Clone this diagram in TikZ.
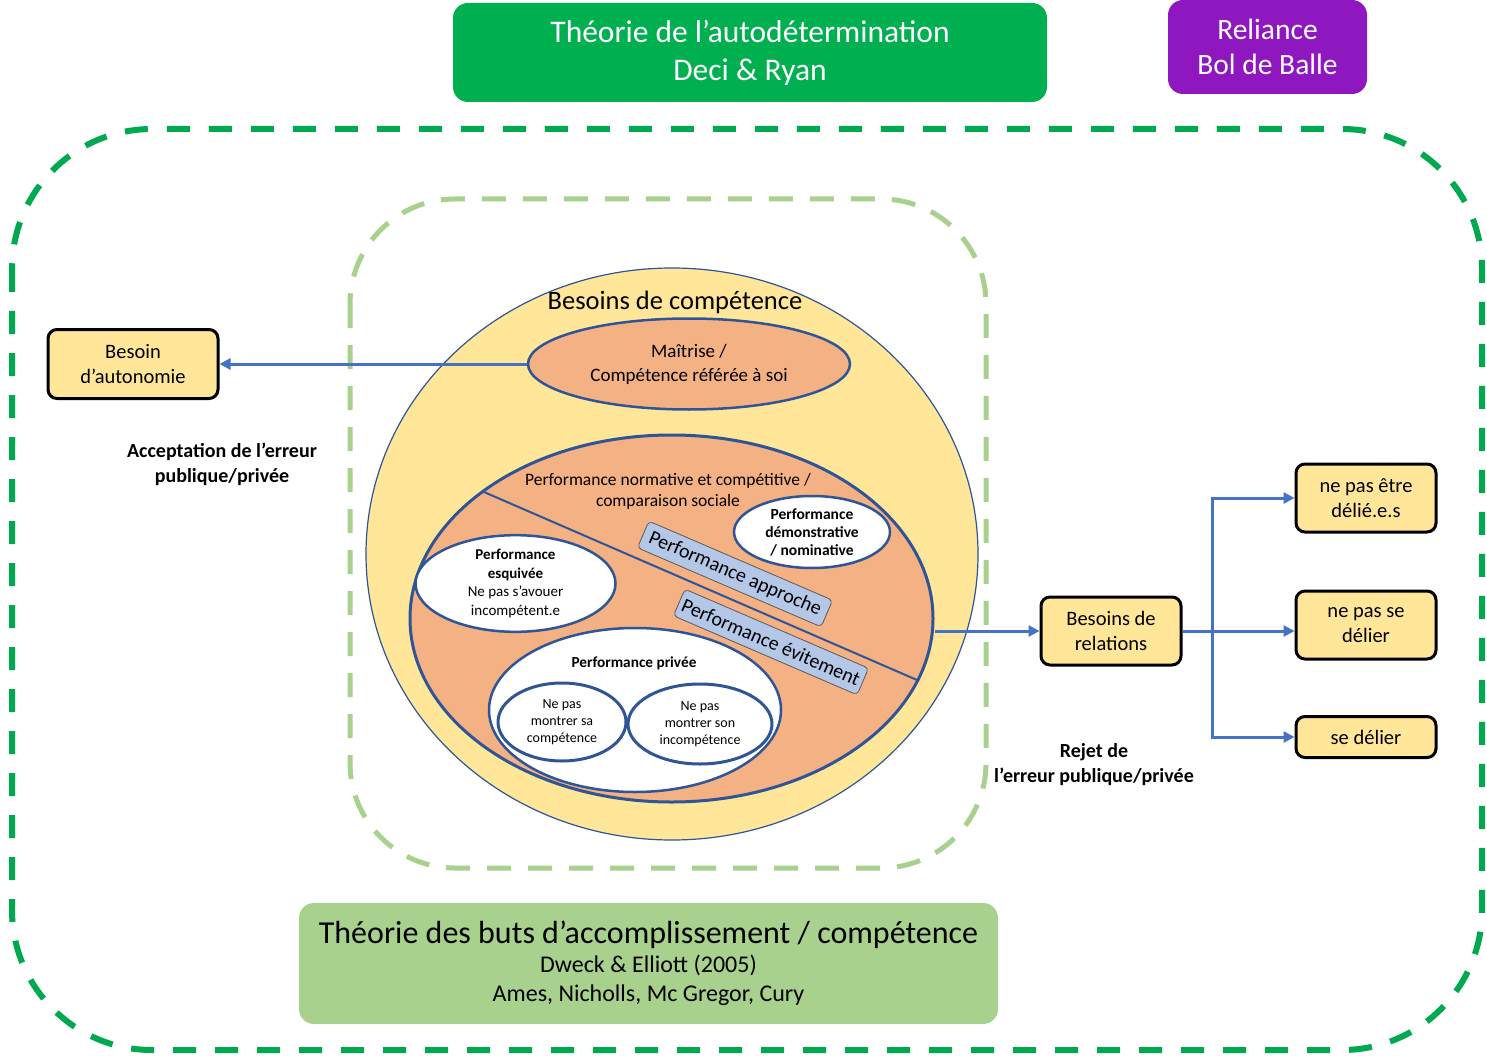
\documentclass[tikz,border=0pt]{standalone}
\usepackage{fontspec}
\setmainfont{Carlito}
\usetikzlibrary{shapes.geometric,arrows.meta}
\definecolor{sdtgreen}{HTML}{00B050}
\definecolor{outergreen}{HTML}{00A94F}
\definecolor{lightgreen}{HTML}{A9D18E}
\definecolor{reliance}{HTML}{8F17C0}
\definecolor{needyellow}{HTML}{FFE699}
\definecolor{perforange}{HTML}{F4B183}
\definecolor{ovalblue}{HTML}{2F5597}
\definecolor{linkblue}{HTML}{4472C4}
\definecolor{barblue}{HTML}{B4C7E7}
\newcommand{\fs}[2]{\fontsize{#1}{#2}\selectfont}
\begin{document}
\begin{tikzpicture}[x=1pt,y=-1pt,
  oval/.style={ellipse,draw=ovalblue,line width=2.5pt,fill=white,inner sep=0pt,align=center},
  needbox/.style={draw=black,line width=3pt,fill=needyellow,rounded corners=9pt,align=center,
                  inner sep=0pt,minimum width=140pt,minimum height=68pt,font=\fs{20.5}{25}},
  perfbar/.style={draw=black!65,line width=.8pt,fill=barblue,rounded corners=4pt,rotate=-23.3,
                  inner sep=0pt,minimum width=200pt,minimum height=29pt,font=\fs{20}{24}},
  link/.style={draw=linkblue,line width=3pt,-{Triangle[length=11pt,width=11pt]}},
  note/.style={align=center,font=\bfseries\fs{20}{25}}]
\useasboundingbox (0,0) rectangle (1487,1056);
\draw[outergreen,line width=6pt,dash pattern=on 23pt off 19pt,rounded corners=140pt]
     (12,129) rectangle (1482,1050);
\draw[lightgreen,line width=5pt,dash pattern=on 24pt off 17pt,rounded corners=105pt]
     (350,199) rectangle (986,868);

\node[ellipse,draw=ovalblue,line width=1.2pt,fill=needyellow,minimum width=612pt,minimum height=572pt]
     (comp) at (672,554) {};
\node[font=\fs{26.5}{30}] (complabel) at (675,302) {Besoins de compétence};
\node[oval,fill=perforange,minimum width=322pt,minimum height=91pt,font=\fs{19}{24}]
     (mastery) at (689,364) {Maîtrise /\\Compétence référée à soi};
\node[oval,line width=3pt,fill=perforange,minimum width=523pt,minimum height=367pt]
     (perf) at (671.5,618.5) {};
\node[align=center,font=\fs{17.5}{21}] (normative) at (668,491)
     {Performance normative et compétitive /\\comparaison sociale};
\draw[ovalblue,line width=2pt] (484,492) -- (917,680);
\node[oval,minimum width=156pt,minimum height=72pt,font=\bfseries\fs{15.5}{18}]
     (demo) at (812,532) {Performance\\démonstrative\\/ nominative};
\node[oval,minimum width=200pt,minimum height=93pt,font=\fs{15}{18.5}]
     (dodge) at (515.5,583.5) {\textbf{Performance}\\\textbf{esquivée}\\Ne pas s’avouer\\incompétent.e};
\node[perfbar] (approach) at (735,574) {Performance approche};
\node[perfbar] (avoid) at (771,642) {Performance évitement};
\node[oval,minimum width=292pt,minimum height=164pt] (private) at (635,710) {};
\node[font=\bfseries\fs{15.3}{18}] (privlabel) at (634,663) {Performance privée};
\node[oval,line width=3pt,minimum width=128pt,minimum height=78pt,font=\fs{14}{17}]
     (hidecomp) at (562,722) {Ne pas\\montrer sa\\compétence};
\node[oval,line width=3pt,minimum width=144pt,minimum height=80pt,font=\fs{14}{17}]
     (hideincomp) at (700,724) {Ne pas\\montrer son\\incompétence};

\node[needbox,minimum width=170pt,minimum height=69pt] (autonomy) at (133,364) {Besoin\\d’autonomie};
\node[note] (accept) at (222,464) {Acceptation de l’erreur\\publique/privée};
\node[needbox] (relations) at (1111,631) {Besoins de\\relations};
\node[note] (reject) at (1094,765) {Rejet de\\l’erreur publique/privée};
\node[needbox] (stay) at (1366,498) {ne pas être\\délié.e.s};
\node[needbox] (nounlink) at (1366,625) {ne pas se\\délier};
\node[needbox,minimum height=41pt] (unlink) at (1366,737) {se délier};
\coordinate (fork) at (1212,631);

\draw[link] (mastery.west) -- (autonomy.east);
\draw[link] (relations.west -| perf.east) -- (relations.west);
\draw[linkblue,line width=3pt] (relations.east) -- (fork);
\draw[link] (fork) |- (stay.west);
\draw[link] (fork) -- (fork -| nounlink.west);
\draw[link] (fork) |- (unlink.west);

\node[fill=sdtgreen,rounded corners=15pt,minimum width=594pt,minimum height=99pt,align=center,
      text=white,font=\fs{31.5}{38}] (sdt) at (750,52.5) {Théorie de l’autodétermination\\Deci \& Ryan};
\node[fill=reliance,rounded corners=15pt,minimum width=199pt,minimum height=94pt,align=center,
      text=white,font=\fs{29.5}{35}] (reliance) at (1267.5,47) {Reliance\\Bol de Balle};
\node[fill=lightgreen,rounded corners=15pt,minimum width=699pt,minimum height=121pt,align=center,
      font=\fs{24}{29}] (goals) at (648.5,963.5)
      {{\fs{32}{33}Théorie des buts d’accomplissement / compétence}\\Dweck \& Elliott (2005)\\Ames, Nicholls, Mc Gregor, Cury};
\end{tikzpicture}
\end{document}
